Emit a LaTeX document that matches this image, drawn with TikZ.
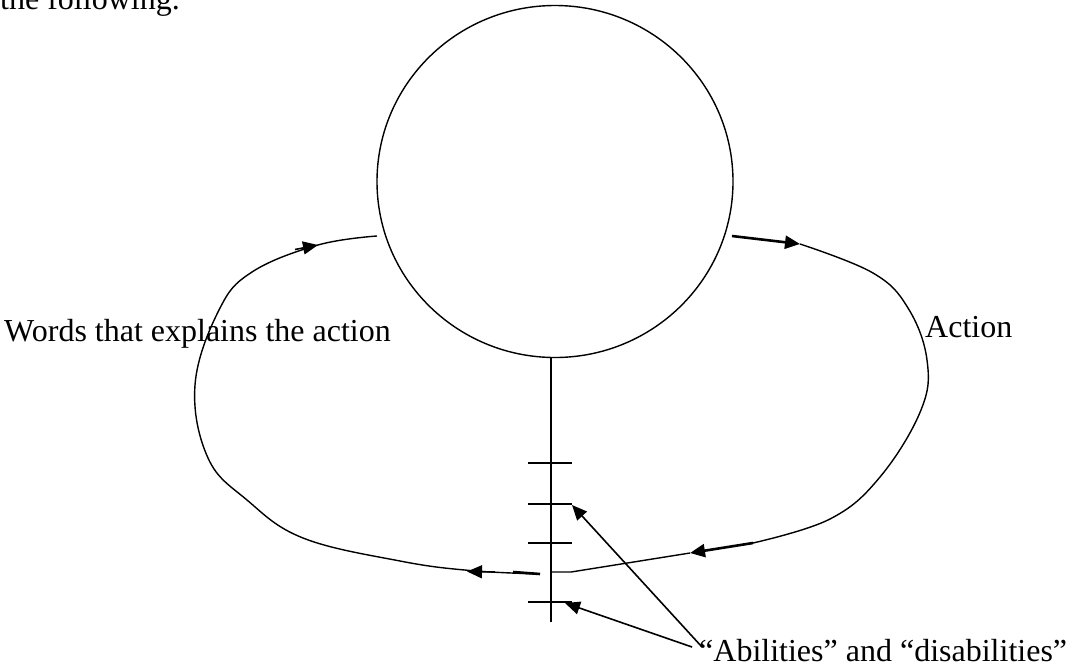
\documentclass[tikz,border=0pt]{standalone}
\usepackage{fontspec}
\setmainfont{Liberation Serif}
\usetikzlibrary{arrows.meta,shapes.geometric}
\begin{document}
\begin{tikzpicture}[x=1pt,y=-1pt,
  ln/.style={line width=1.4pt,line join=round},
  bold/.style={line width=2.6pt},
  tip/.style={-{Triangle[length=15pt,width=13pt]}},
  arr/.style={line width=1.6pt,tip},
  lbl/.style={inner sep=0pt,anchor=base west,font=\fontsize{32}{38}\selectfont}]
\useasboundingbox (0,0) rectangle (1074,670);
\clip (0,0) rectangle (1074,670);
% top cut-off text
\node[lbl] (top) at (0,9) {the following.};
% circle
\node[draw,ellipse,ln,inner sep=0pt,minimum width=356pt,minimum height=352pt] (c) at (555,181.5) {};
% labels
\node[lbl] (words) at (4,341) {Words that explains the action};
\node[lbl] (act) at (925,337) {Action};
\node[lbl] (abil) at (699,661) {“Abilities” and “disabilities”};
% vertical line with ticks
\coordinate (vt) at (551,357);
\coordinate (vb) at (551,622);
\draw[ln] (vt) -- (vb);
\foreach \i/\y in {1/463,2/504,3/543,4/602}{
  \coordinate (tl\i) at (528,\y);
  \coordinate (tr\i) at (572,\y);
  \draw[ln] (tl\i) -- (tr\i);
}
% crossing point
\coordinate (x0) at (551,572);
\coordinate (x1) at (571,572);
% left loop
\coordinate (L0) at (377,236);
\coordinate (Lend) at (540,574);
\draw[ln] plot[smooth,tension=0.65] coordinates {(377,236) (318,245) (252,272) (219,310) (195,385) (208,458) (247,500) (303,538) (400,561) (470,570.5) (540,574)};
\draw[arr] (295,249.5) -- (318,245);
\draw[arr] (495,572) -- (467,571.5);
\draw[bold] (513,572) -- (Lend);
% right loop
\coordinate (R0) at (732,236);
\coordinate (R1) at (800,244);
\coordinate (R2) at (753,543);
\coordinate (R3) at (690,553);
\draw[ln] plot[smooth,tension=0.65] coordinates {(800,244) (873,273) (908,308) (927,360) (921,410) (880,477) (830,519) (753,543)};
\draw[bold,tip] (R0) -- (R1);
\draw[bold,tip] (R2) -- (R3);
\draw[ln] (R3) -- (x1) -- (x0);
% ability arrows
\coordinate (a1) at (692,647);
\coordinate (a2) at (702,647);
\draw[arr] (a1) -- (565,603);
\draw[arr] (a2) -- (572,505);
\end{tikzpicture}
\end{document}
